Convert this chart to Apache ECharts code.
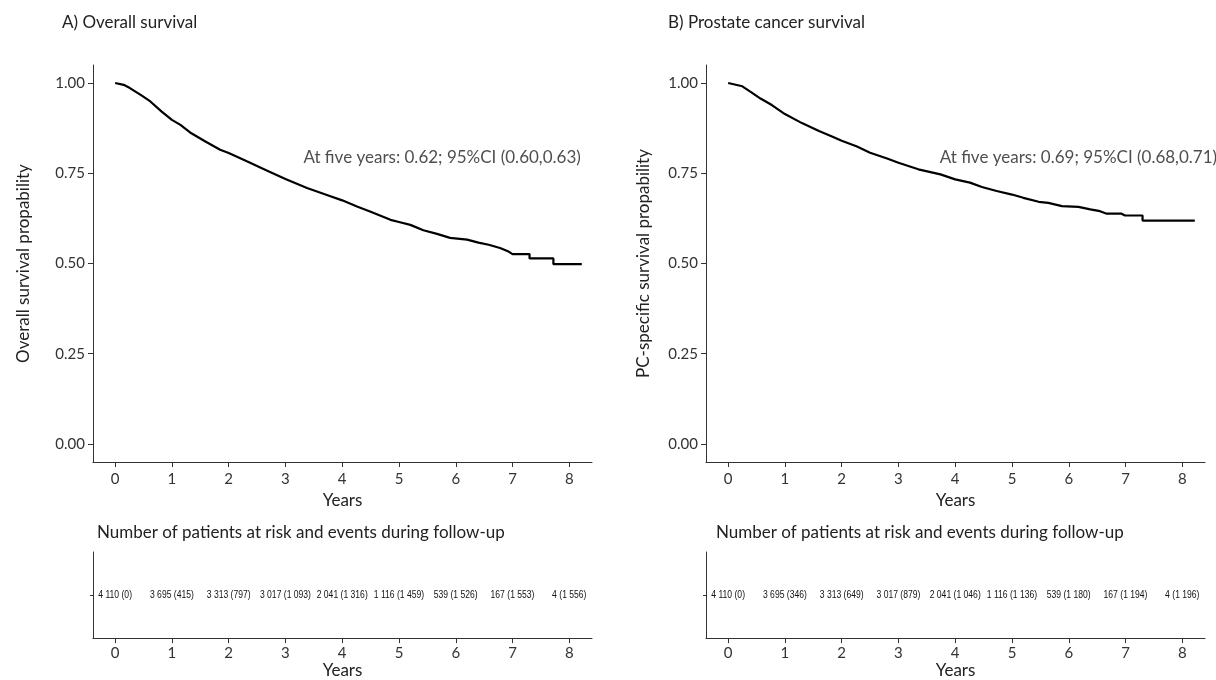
<!DOCTYPE html>
<html>
<head>
<meta charset="utf-8">
<script src="https://cdn.jsdelivr.net/npm/echarts@6/dist/echarts.min.js"></script>
<style>html,body{margin:0;padding:0;background:#fff;}#chart{width:1216px;height:680px;}</style>
</head>
<body>
<div id="chart"></div>
<script>
// ---- data ----
const yearTicks = [0, 1, 2, 3, 4, 5, 6, 7, 8];
const probTicks = [0, 0.25, 0.5, 0.75, 1];

// Overall survival (Kaplan-Meier), [years, probability]
const osCurve = [[0,1.000],[0.15,0.995],[0.26,0.986],[0.47,0.965],[0.62,0.949],[0.82,0.921],[1.0,0.898],[1.15,0.884],[1.32,0.863],[1.59,0.838],[1.85,0.815],[2.0,0.806],[2.32,0.783],[2.67,0.758],[3.0,0.734],[3.38,0.709],[3.73,0.690],[4.0,0.675],[4.26,0.658],[4.49,0.644],[4.85,0.621],[5.0,0.615],[5.2,0.607],[5.43,0.592],[5.67,0.582],[5.9,0.571],[6.2,0.566],[6.4,0.558],[6.58,0.552],[6.78,0.543],[6.93,0.533],[7.0,0.526],[7.3,0.526],[7.3,0.514],[7.72,0.514],[7.72,0.498],[8.22,0.498]];

// Prostate cancer specific survival
const pcCurve = [[0,1.000],[0.25,0.991],[0.39,0.976],[0.57,0.957],[0.77,0.939],[1.0,0.914],[1.3,0.889],[1.6,0.867],[1.83,0.852],[2.0,0.840],[2.27,0.824],[2.5,0.807],[2.8,0.791],[3.0,0.779],[3.35,0.761],[3.74,0.747],[4.0,0.733],[4.26,0.724],[4.47,0.712],[4.73,0.701],[5.0,0.691],[5.2,0.682],[5.47,0.671],[5.64,0.668],[5.88,0.659],[6.17,0.657],[6.38,0.650],[6.55,0.645],[6.67,0.638],[6.93,0.638],[6.99,0.633],[7.3,0.633],[7.3,0.619],[8.22,0.619]];

const atRisk   = [4110, 3695, 3313, 3017, 2041, 1116, 539, 167, 4];
const osEvents = [0, 415, 797, 1093, 1316, 1459, 1526, 1553, 1556];
const pcEvents = [0, 346, 649, 879, 1046, 1136, 1180, 1194, 1196];

const osNote = 'At five years: 0.62; 95%CI (0.60,0.63)';
const pcNote = 'At five years: 0.69; 95%CI (0.68,0.71)';
const osNotePos = [5.76, 0.795];
const pcNotePos = [6.17, 0.795];

const titleA = 'A) Overall survival';
const titleB = 'B) Prostate cancer survival';
const riskTitle = 'Number of patients at risk and events during follow-up';
const yNameA = 'Overall survival propability';
const yNameB = 'PC-specific survival propability';
const xName = 'Years';

// ---- helpers ----
const FONT = 'Lato, "Noto Sans", sans-serif';
const RISKFONT = '"Liberation Sans", Arial, sans-serif';
const AX = '#333';
function fmtNum(n) {
  return String(n).replace(/\B(?=(\d{3})+(?!\d))/g, ' ');
}
function riskData(events) {
  return yearTicks.map((t, i) => ({ value: [t, 0], text: fmtNum(atRisk[i]) + ' (' + fmtNum(events[i]) + ')' }));
}
function riskRender(dataArr) {
  return function (params, api) {
    const pt = api.coord([api.value(0), api.value(1)]);
    return {
      type: 'text', x: pt[0], y: pt[1], scaleX: 0.78, scaleY: 1,
      style: { text: dataArr[params.dataIndex].text, fontSize: 11, fontFamily: RISKFONT,
               fill: '#111', align: 'center', verticalAlign: 'middle' }
    };
  };
}

const grids = [
  { left: 93, top: 65, width: 499, height: 397 },
  { left: 706, top: 65, width: 499, height: 397 },
  { left: 93, top: 552, width: 499, height: 88 },
  { left: 706, top: 552, width: 499, height: 88 }
];

function xAxisFor(i, isRisk) {
  return {
    type: 'value', gridIndex: i, min: -0.39, max: 8.4,
    axisLine: { show: true, onZero: false, lineStyle: { color: AX, width: 1 } },
    axisTick: { show: true, customValues: yearTicks, length: 5, lineStyle: { color: AX } },
    axisLabel: { customValues: yearTicks, fontSize: 15, color: AX, fontFamily: FONT, margin: isRisk ? 8 : 10 },
    splitLine: { show: false },
    name: xName, nameLocation: 'middle', nameGap: isRisk ? 23 : 29,
    nameTextStyle: { fontSize: 17, color: '#222', fontFamily: FONT }
  };
}
function yAxisMain(i, name, gap) {
  return {
    type: 'value', gridIndex: i, min: -0.05, max: 1.05,
    axisLine: { show: true, onZero: false, lineStyle: { color: AX, width: 1 } },
    axisTick: { show: true, customValues: probTicks, length: 5, lineStyle: { color: AX } },
    axisLabel: { customValues: probTicks, fontSize: 15, color: AX, fontFamily: FONT, margin: 8,
                 formatter: v => Number(v).toFixed(2) },
    splitLine: { show: false },
    name: name, nameLocation: 'middle', nameGap: gap,
    nameTextStyle: { fontSize: 17, color: '#222', fontFamily: FONT }
  };
}
function yAxisRisk(i) {
  return {
    type: 'category', gridIndex: i, data: [''],
    axisLine: { show: true, onZero: false, lineStyle: { color: AX, width: 1 } },
    axisTick: { show: true, length: 3, alignWithLabel: true, lineStyle: { color: AX } },
    axisLabel: { show: false },
    splitLine: { show: false }
  };
}

const osRisk = riskData(osEvents);
const pcRisk = riskData(pcEvents);

const option = {
  animation: false,
  backgroundColor: '#fff',
  title: [
    { text: titleA, left: 62, top: 14, padding: 0, textStyle: { fontSize: 17, fontWeight: 'normal', color: '#222', fontFamily: FONT } },
    { text: titleB, left: 668, top: 14, padding: 0, textStyle: { fontSize: 17, fontWeight: 'normal', color: '#222', fontFamily: FONT } },
    { text: riskTitle, left: 97, top: 524, padding: 0, textStyle: { fontSize: 17, fontWeight: 'normal', color: '#222', fontFamily: FONT } },
    { text: riskTitle, left: 716, top: 524, padding: 0, textStyle: { fontSize: 17, fontWeight: 'normal', color: '#222', fontFamily: FONT } }
  ],
  grid: grids,
  xAxis: [xAxisFor(0, false), xAxisFor(1, false), xAxisFor(2, true), xAxisFor(3, true)],
  yAxis: [yAxisMain(0, yNameA, 61), yAxisMain(1, yNameB, 54), yAxisRisk(2), yAxisRisk(3)],
  series: [
    { type: 'line', xAxisIndex: 0, yAxisIndex: 0, data: osCurve, showSymbol: false, symbol: 'none',
      lineStyle: { color: '#000', width: 2.2 } },
    { type: 'line', xAxisIndex: 1, yAxisIndex: 1, data: pcCurve, showSymbol: false, symbol: 'none',
      lineStyle: { color: '#000', width: 2.2 } },
    { type: 'scatter', xAxisIndex: 0, yAxisIndex: 0, data: [osNotePos], symbolSize: 1,
      itemStyle: { color: 'rgba(0,0,0,0)' },
      label: { show: true, position: 'inside', formatter: osNote, fontSize: 17, color: '#222', fontFamily: FONT } },
    { type: 'scatter', xAxisIndex: 1, yAxisIndex: 1, data: [pcNotePos], symbolSize: 1,
      itemStyle: { color: 'rgba(0,0,0,0)' },
      label: { show: true, position: 'inside', formatter: pcNote, fontSize: 17, color: '#222', fontFamily: FONT } },
    { type: 'custom', xAxisIndex: 2, yAxisIndex: 2, data: osRisk.map(d => d.value),
      renderItem: riskRender(osRisk), clip: false },
    { type: 'custom', xAxisIndex: 3, yAxisIndex: 3, data: pcRisk.map(d => d.value),
      renderItem: riskRender(pcRisk), clip: false }
  ]
};

const chart = echarts.init(document.getElementById('chart'), null, { renderer: 'canvas' });
chart.setOption(option);
</script>
</body>
</html>
